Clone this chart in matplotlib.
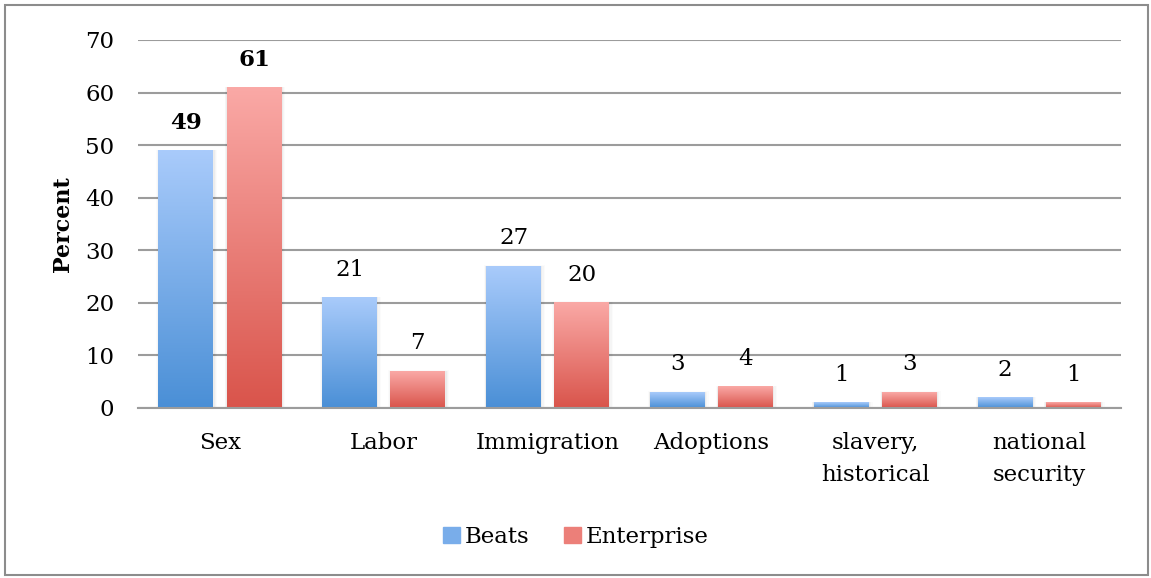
import numpy as np
import matplotlib.pyplot as plt
from matplotlib.colors import LinearSegmentedColormap
from matplotlib.patches import Rectangle

categories = ["Sex", "Labor", "Immigration", "Adoptions", "slavery,\nhistorical", "national\nsecurity"]
beats = [49, 21, 27, 3, 1, 2]
enterprise = [61, 7, 20, 4, 3, 1]
bold_labels = [True, False, False, False, False, False]

plt.rcParams.update({"font.family": "DejaVu Serif", "font.size": 16})

fig = plt.figure(figsize=(11.51, 5.78), dpi=100)
ax = fig.add_axes([138 / 1151, 1 - 408 / 578, (1121 - 138) / 1151, (408 - 40) / 578])

blue_cmap = LinearSegmentedColormap.from_list("beats", ["#4a8fd6", "#a9cbfb"])
red_cmap = LinearSegmentedColormap.from_list("ent", ["#d9544b", "#faa9a6"])

x = np.arange(len(categories))
width = 0.335
offset = 0.208
grad = np.linspace(0, 1, 256).reshape(-1, 1)


def gradient_bars(xpos, values, cmap):
    bars = ax.bar(xpos, values, width, color="none", edgecolor="none", zorder=3)
    for b in bars:
        x0, y0 = b.get_x(), b.get_y()
        w, h = b.get_width(), b.get_height()
        # soft drop shadow
        for k, a in enumerate([0.035, 0.025, 0.015]):
            d = 0.008 * (k + 1)
            ax.add_patch(Rectangle((x0 - d * 0.5, y0), w + d * 1.5, h + d * 6, color="k",
                                   alpha=a, lw=0, zorder=2))
        ax.imshow(grad, cmap=cmap, extent=(x0, x0 + w, y0, y0 + h), origin="lower",
                  aspect="auto", zorder=3, interpolation="bilinear")
    return bars


gradient_bars(x - offset, beats, blue_cmap)
gradient_bars(x + offset, enterprise, red_cmap)

for i in range(len(categories)):
    for xp, v in ((x[i] - offset, beats[i]), (x[i] + offset, enterprise[i])):
        ax.annotate(str(v), (xp, v), xytext=(0, 20), textcoords="offset points",
                    ha="center", va="center", fontsize=16.5,
                    fontweight="bold" if bold_labels[i] else "normal")

ax.set_xlim(-0.5, len(categories) - 0.5)
ax.set_ylim(0, 70)
ax.set_yticks(range(0, 71, 10))
ax.set_xticks(x)
ax.set_xticklabels(categories, linespacing=1.6)
ax.yaxis.grid(True, color="#9c9c9c", lw=1.5, zorder=1)
ax.set_axisbelow(True)
for s in ("top", "right", "left"):
    ax.spines[s].set_visible(False)
ax.spines["bottom"].set_color("#9c9c9c")
ax.spines["bottom"].set_linewidth(1.5)
ax.spines["bottom"].set_zorder(4)
ax.tick_params(axis="both", length=0, labelsize=16.5)
ax.tick_params(axis="y", pad=17)
ax.tick_params(axis="x", pad=17)
ax.set_ylabel("Percent", fontweight="bold", fontsize=16, labelpad=8)

handles = [Rectangle((0, 0), 1, 1, color="#79adea"), Rectangle((0, 0), 1, 1, color="#ec7f79")]
fig.legend(handles, ["Beats", "Enterprise"], loc="center", bbox_to_anchor=(0.5, 1 - 537 / 578),
           ncol=2, frameon=False, fontsize=16.5, handlelength=0.75, handleheight=0.75,
           handletextpad=0.2, columnspacing=1.5)

fig.add_artist(Rectangle((5 / 1151, 3 / 578), 1143 / 1151, 570 / 578, transform=fig.transFigure,
                         fill=False, edgecolor="#8c8c8c", lw=1.5))

fig.savefig("out.png", dpi=100)
